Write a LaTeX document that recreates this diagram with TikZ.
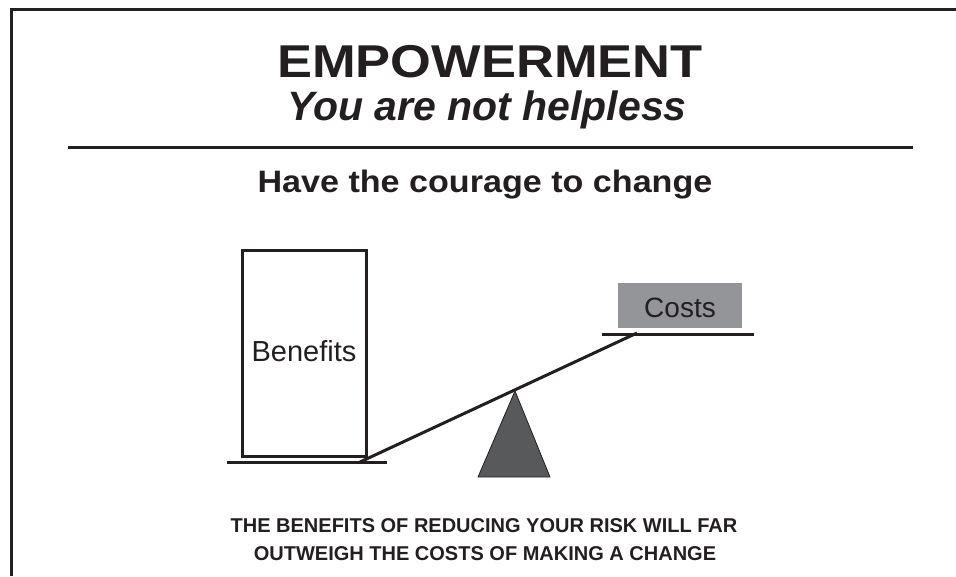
\documentclass[tikz,border=0pt]{standalone}
\usepackage{fontspec}
\setmainfont{Liberation Sans}
\usetikzlibrary{calc}
\definecolor{ink}{HTML}{231F20}
\definecolor{costgray}{HTML}{939598}
\definecolor{fulcrum}{HTML}{58595B}
\tikzset{
  txt/.style={inner sep=0pt, anchor=base, text=ink},
  thick line/.style={draw=ink, line width=3pt},
}
\newcommand{\fs}[1]{\fontsize{#1}{#1}\selectfont}
\begin{document}
\begin{tikzpicture}[x=1pt,y=-1pt]
\useasboundingbox (0,0) rectangle (956,576);
% frame
\draw[ink, line width=3pt] (11.5,576) -- (11.5,9.5) -- (956,9.5);
% titles
\node[txt, font=\bfseries\fs{46}] (title) at (490,77) {\scalebox{1.14}[1]{EMPOWERMENT}};
\node[txt, font=\bfseries\itshape\fs{41}] (sub) at (487,120) {You are not helpless};
\draw[ink, line width=2.5pt] (68,147.5) coordinate (r1) -- (913,147.5) coordinate (r2);
\node[txt, font=\bfseries\fs{31}] (courage) at (485,192) {\scalebox{1.1}[1]{Have the courage to change}};
% benefits
\node[draw=ink, line width=3pt, minimum width=124pt, minimum height=206pt, inner sep=0pt] (ben) at (304,353) {};
\node[txt, font=\fs{29}] (bentxt) at (304,361) {Benefits};
\draw[thick line] (227,462) coordinate (g1) -- (387,462) coordinate (g2);
% costs
\node[fill=costgray, minimum width=124pt, minimum height=45pt, inner sep=0pt] (cost) at (680,305.5) {};
\node[txt, font=\fs{28}] (costtxt) at (680,317) {Costs};
\draw[thick line] (602,334) coordinate (c1) -- (754,334) coordinate (c2);
% lever
\coordinate (l1) at (360,462);
\coordinate (l2) at (637,333);
\draw[thick line] (l1) -- (l2);
% fulcrum
\draw[draw=ink, line width=0.8pt, fill=fulcrum, line join=round] (515,391) coordinate (apex) -- (550,477) -- (478,477) -- cycle;
% bottom text
\node[txt, font=\bfseries\fs{20}] (b1) at (484,532) {THE BENEFITS OF REDUCING YOUR RISK WILL FAR};
\node[txt, font=\bfseries\fs{20}] (b2) at (485,560) {OUTWEIGH THE COSTS OF MAKING A CHANGE};
\end{tikzpicture}
\end{document}
